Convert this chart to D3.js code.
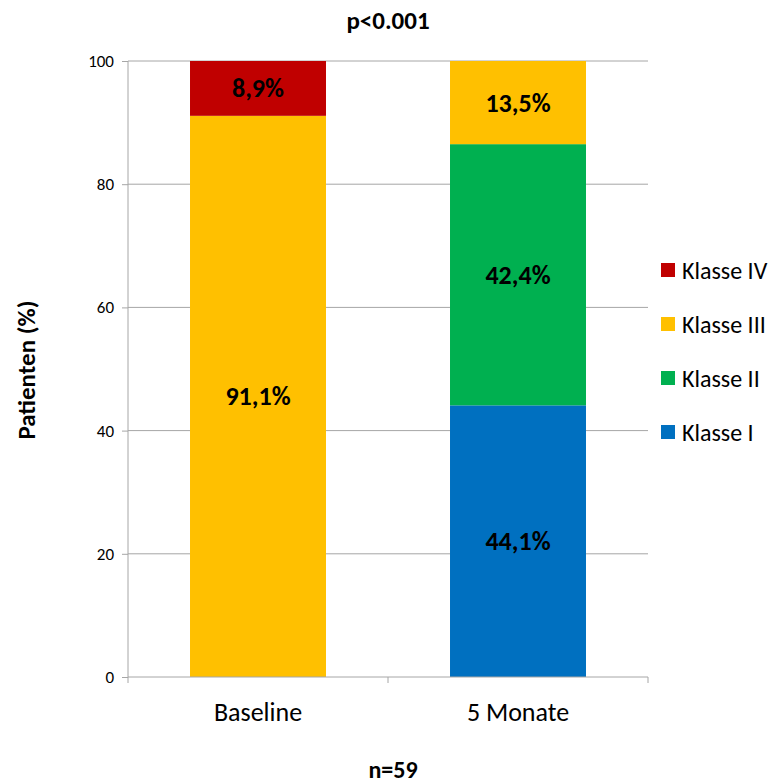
<!DOCTYPE html>
<html><head><meta charset="utf-8">
<script src="https://cdn.jsdelivr.net/npm/d3@7"></script>
<style>
body{margin:0;background:#fff;}
svg text{font-family:Carlito, Lato, "Open Sans", sans-serif;}
</style></head>
<body><svg id="c" width="776" height="784"></svg>
<script>
const categories = ["Baseline", "5 Monate"];
const classes = ["Klasse I", "Klasse II", "Klasse III", "Klasse IV"];
const klasseI   = [0, 44.1];
const klasseII  = [0, 42.4];
const klasseIII = [91.1, 13.5];
const klasseIV  = [8.9, 0];
const colors = ["#0070C0", "#00B050", "#FFC000", "#C00000"];
const yTicks = [0, 20, 40, 60, 80, 100];

const svg = d3.select("#c");
const m = {l:128, r:648, t:61, b:677};
const x = d3.scaleBand().domain(categories).range([m.l, m.r]).paddingInner(0.477).paddingOuter(0.2385);
const xOuter = d3.scaleBand().domain(categories).range([m.l, m.r]);
const y = d3.scaleLinear().domain([0,100]).range([m.b, m.t]);

svg.append("g").selectAll("line").data(yTicks.filter(d=>d>0)).join("line")
  .attr("x1", m.l).attr("x2", m.r).attr("y1", d=>y(d)).attr("y2", d=>y(d))
  .attr("stroke", "#a6a6a6").attr("stroke-width", 1);

const rows = categories.map((c,i)=>({cat:c, "Klasse I":klasseI[i], "Klasse II":klasseII[i], "Klasse III":klasseIII[i], "Klasse IV":klasseIV[i]}));
const stack = d3.stack().keys(classes)(rows);

const g = svg.append("g");
stack.forEach((s,k)=>{
  g.selectAll(null).data(s.filter(d=>d[1]-d[0]>0)).join("rect")
    .attr("x", d=>x(d.data.cat)).attr("width", x.bandwidth())
    .attr("y", d=>y(d[1])).attr("height", d=>y(d[0])-y(d[1]))
    .attr("fill", colors[k]);
  g.selectAll(null).data(s.filter(d=>d[1]-d[0]>0)).join("text")
    .attr("x", d=>x(d.data.cat)+x.bandwidth()/2).attr("y", d=>y((d[0]+d[1])/2))
    .attr("text-anchor","middle").attr("dominant-baseline","central")
    .attr("font-size", 26).attr("font-weight","bold").attr("fill","#000")
    .text(d=>(d[1]-d[0]).toFixed(1).replace(".", ",")+"%");
});

const ya = svg.append("g").attr("transform", `translate(${m.l},0)`)
  .call(d3.axisLeft(y).tickValues(yTicks).tickSize(6).tickPadding(8));
ya.select(".domain").attr("stroke","#a6a6a6").attr("d", `M0,${m.t}V${m.b}`);
ya.selectAll(".tick line").attr("stroke","#a6a6a6");
ya.selectAll(".tick text").attr("font-size",17).attr("fill","#000").attr("font-family","Carlito, Lato, sans-serif");

const xa = svg.append("g").attr("transform", `translate(0,${m.b})`);
xa.append("line").attr("x1", m.l).attr("x2", m.r).attr("stroke","#a6a6a6");
const bounds = [m.l, ...categories.map(c=>xOuter(c)+xOuter.bandwidth())];
xa.selectAll(".xt").data(bounds).join("line").attr("class","xt")
  .attr("x1", d=>d).attr("x2", d=>d).attr("y1",0).attr("y2",6).attr("stroke","#a6a6a6");
xa.selectAll(".xl").data(categories).join("text").attr("class","xl")
  .attr("x", d=>xOuter(d)+xOuter.bandwidth()/2).attr("y", 44)
  .attr("text-anchor","middle").attr("font-size",26).attr("fill","#000").text(d=>d);

svg.append("text").attr("x", 388).attr("y", 29).attr("text-anchor","middle")
  .attr("font-size",25).attr("font-weight","bold").text("p<0.001");
svg.append("text").attr("x", 393).attr("y", 778).attr("text-anchor","middle")
  .attr("font-size",24).attr("font-weight","bold").text("n=59");
svg.append("text").attr("transform","translate(35,370) rotate(-90)").attr("text-anchor","middle")
  .attr("font-size",25).attr("font-weight","bold").text("Patienten (%)");

const legOrder = [3,2,1,0];
const lg = svg.append("g").selectAll("g").data(legOrder).join("g")
  .attr("transform", (d,i)=>`translate(661,${270+i*54})`);
lg.append("rect").attr("x",0).attr("y",-7).attr("width",14).attr("height",14).attr("fill", d=>colors[d]);
lg.append("text").attr("x",21).attr("y",0).attr("dominant-baseline","central")
  .attr("font-size",24).attr("fill","#000").text(d=>classes[d]);
</script></body></html>
